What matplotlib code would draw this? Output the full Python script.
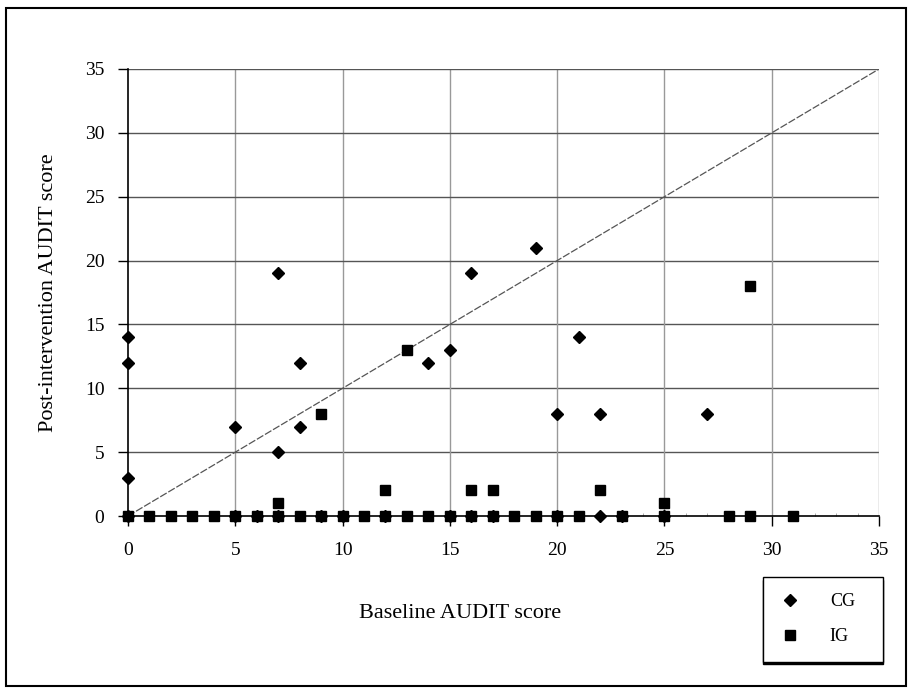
import matplotlib
matplotlib.use('Agg')
import matplotlib.pyplot as plt
from matplotlib.patches import Rectangle

plt.rcParams['font.family'] = ['Liberation Serif', 'DejaVu Serif']

# control group (CG)
cg_base = [0, 0, 0, 5, 7, 7, 8, 8, 14, 15, 16, 19, 20, 21, 22, 27,
           0, 5, 6, 7, 9, 10, 12, 15, 16, 17, 20, 22, 23, 25]
cg_post = [14, 12, 3, 7, 19, 5, 12, 7, 12, 13, 19, 21, 8, 14, 8, 8,
           0, 0, 0, 0, 0, 0, 0, 0, 0, 0, 0, 0, 0, 0]

# intervention group (IG)
ig_base = [0, 1, 2, 3, 4, 5, 6, 7, 8, 9, 10, 11, 12, 13, 14, 15, 16, 17, 18,
           19, 20, 21, 23, 25, 28, 29, 31,
           7, 25, 12, 16, 17, 22, 9, 13, 29]
ig_post = [0] * 27 + [1, 1, 2, 2, 2, 2, 8, 13, 18]

ticks = [0, 5, 10, 15, 20, 25, 30, 35]

fig = plt.figure(figsize=(9.13, 6.92), dpi=100)
ax = fig.add_axes([0.1402, 0.2543, 0.8226, 0.6460])

for t in ticks[1:]:
    ax.axvline(t, color='#999999', lw=1, zorder=1)
    ax.axhline(t, color='#555555', lw=1, zorder=1)

ax.plot([0, 35], [0, 35], color='#555555', lw=0.9, ls=(0, (6, 1.5)), zorder=2)

ax.plot(cg_base, cg_post, 'D', color='black', markersize=6.5, ls='none',
        label='CG', clip_on=False, zorder=4)
ax.plot(ig_base, ig_post, 's', color='black', markersize=7.5, ls='none',
        label='IG', clip_on=False, zorder=3)

ax.set_xlim(0, 35)
ax.set_ylim(0, 35)
ax.set_xticks(ticks)
ax.set_yticks(ticks)
ax.set_xticks(range(36), minor=True)
ax.tick_params(axis='both', which='major', labelsize=14, length=7, width=1,
               direction='out', color='black')
ax.tick_params(axis='x', which='major', pad=12)
ax.tick_params(axis='y', which='major', pad=10)
ax.tick_params(axis='x', which='minor', length=2.5, direction='in', color='#999999')

for s in ['top', 'right']:
    ax.spines[s].set_visible(False)
for s in ['left', 'bottom']:
    ax.spines[s].set_color('black')
    ax.spines[s].set_linewidth(1.2)
    ax.spines[s].set_zorder(2.5)

ax.set_xlabel('Baseline AUDIT score', fontsize=16)
ax.xaxis.set_label_coords(0.442, -0.197)
ax.set_ylabel('Post-intervention AUDIT score', fontsize=16)
ax.yaxis.set_label_coords(-0.093, 0.5)

leg = fig.legend(loc='upper left', bbox_to_anchor=(0.8357, 0.1662, 0.131, 0.0),
                 mode='expand', borderaxespad=0, fontsize=13, frameon=True,
                 fancybox=False, edgecolor='black', handlelength=1.2,
                 handletextpad=1.6, labelspacing=1.0, borderpad=0.9,
                 markerscale=1.0,
                 shadow={'ox': 0, 'oy': -2, 'color': 'black', 'alpha': 1})
leg.get_frame().set_linewidth(1)

fig.patches.append(Rectangle((0.007, 0.009), 0.985, 0.979, transform=fig.transFigure,
                             fill=False, edgecolor='black', lw=1.5))

fig.savefig('out.png', dpi=100)
